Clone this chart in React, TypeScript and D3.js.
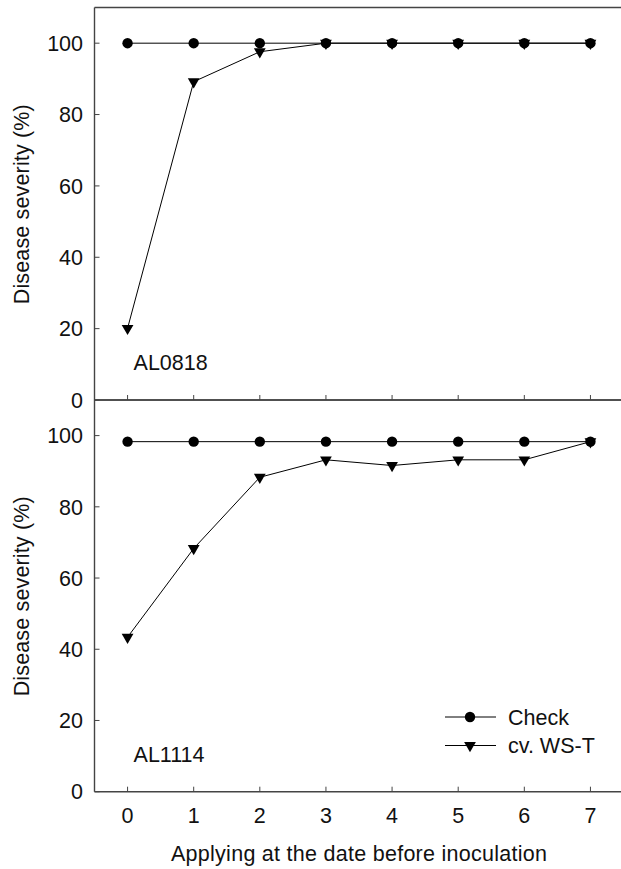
import React, { useEffect, useRef } from "react";
import * as d3 from "d3";

// days before inoculation
const days = [0, 1, 2, 3, 4, 5, 6, 7];

// AL0818 panel
const checkAL0818 = [100, 100, 100, 100, 100, 100, 100, 100];
const wstAL0818 = [20.1, 89.2, 97.6, 100, 100, 100, 100, 100];

// AL1114 panel
const checkAL1114 = [98.3, 98.3, 98.3, 98.3, 98.3, 98.3, 98.3, 98.3];
const wstAL1114 = [43.4, 68.3, 88.3, 93.2, 91.6, 93.2, 93.2, 98.3];

const yTicks = [0, 20, 40, 60, 80, 100];
const panelNames = ["AL0818", "AL1114"];
const seriesNames = ["Check", "cv. WS-T"];

const W = 621;
const H = 869;
const FONT = "Liberation Sans, Arial, sans-serif";
const FS = 21.5;

const App = () => {
  const ref = useRef<SVGSVGElement>(null);

  useEffect(() => {
    const svg = d3.select(ref.current);
    svg.selectAll("*").remove();

    const left = 94.5;
    const right = 623.5;
    const x = d3.scaleLinear().domain([-0.5, 7.5]).range([left, right]);

    const panels = [
      { name: panelNames[0], check: checkAL0818, wst: wstAL0818, top: 7.5, bottom: 400 },
      { name: panelNames[1], check: checkAL1114, wst: wstAL1114, top: 400, bottom: 791.7 },
    ];

    const axisColor = "#444";
    const circle = d3.symbol().type(d3.symbolCircle).size(85)();
    const tri = d3.symbol().type(d3.symbolTriangle).size(60)();

    const txt = (g: any) =>
      g.append("text").attr("font-size", FS).attr("font-family", FONT).attr("fill", "#111");

    panels.forEach((p, i) => {
      const y = d3.scaleLinear().domain([0, 110]).range([p.bottom, p.top]);
      const g = svg.append("g");

      // frame: left, top, bottom
      g.append("line").attr("x1", left).attr("x2", left).attr("y1", p.top).attr("y2", p.bottom)
        .attr("stroke", axisColor).attr("stroke-width", 1.4);
      g.append("line").attr("x1", left).attr("x2", W).attr("y1", p.top).attr("y2", p.top)
        .attr("stroke", axisColor).attr("stroke-width", 1.4);
      g.append("line").attr("x1", left).attr("x2", W).attr("y1", p.bottom).attr("y2", p.bottom)
        .attr("stroke", axisColor).attr("stroke-width", 1.4);

      // y ticks (inward)
      yTicks.forEach((t) => {
        g.append("line").attr("x1", left).attr("x2", left + 5).attr("y1", y(t)).attr("y2", y(t))
          .attr("stroke", axisColor).attr("stroke-width", 1);
        txt(g).attr("x", 83).attr("y", y(t)).attr("dy", "0.36em")
          .attr("text-anchor", "end").text(t);
      });

      // x ticks (inward)
      days.forEach((d) => {
        g.append("line").attr("x1", x(d)).attr("x2", x(d)).attr("y1", p.bottom).attr("y2", p.bottom - 5)
          .attr("stroke", axisColor).attr("stroke-width", 1);
      });

      // y title
      txt(g)
        .attr("transform", `translate(29,${(p.top + p.bottom) / 2 + 0.5}) rotate(-90)`)
        .attr("text-anchor", "middle")
        .attr("textLength", 200).attr("lengthAdjust", "spacing")
        .text("Disease severity (%)");

      // panel label
      txt(g).attr("x", x(0) + 6).attr("y", p.bottom - 30).text(p.name);

      const line = d3.line<number>().x((_, k) => x(days[k])).y((v) => y(v));

      // cv. WS-T
      g.append("path").attr("d", line(p.wst)).attr("fill", "none").attr("stroke", "#000").attr("stroke-width", 1);
      // Check
      g.append("path").attr("d", line(p.check)).attr("fill", "none").attr("stroke", "#000").attr("stroke-width", 1);

      g.selectAll(".tri").data(p.wst).join("path")
        .attr("d", tri).attr("fill", "#000")
        .attr("transform", (v, k) => `translate(${x(days[k])},${y(v)}) rotate(180)`);
      g.selectAll(".dot").data(p.check).join("path")
        .attr("d", circle).attr("fill", "#000")
        .attr("transform", (v, k) => `translate(${x(days[k])},${y(v)})`);

      if (i === 1) {
        days.forEach((d) => {
          txt(g).attr("x", x(d)).attr("y", p.bottom + 31.5)
            .attr("text-anchor", "middle").text(d);
        });
        txt(g).attr("x", 359).attr("y", 861)
          .attr("text-anchor", "middle")
          .attr("textLength", 376).attr("lengthAdjust", "spacing")
          .text("Applying at the date before inoculation");

        // legend
        seriesNames.forEach((s, k) => {
          const ly = 717 + k * 28.5;
          g.append("line").attr("x1", 445).attr("x2", 496).attr("y1", ly).attr("y2", ly)
            .attr("stroke", "#000").attr("stroke-width", 1);
          g.append("path").attr("d", k === 0 ? circle : tri).attr("fill", "#000")
            .attr("transform", `translate(470,${ly})${k === 0 ? "" : " rotate(180)"}`);
          txt(g).attr("x", 508).attr("y", ly).attr("dy", "0.36em").text(s);
        });
      }
    });
  }, []);

  return (
    <div style={{ position: "absolute", left: 0, top: 0 }}>
      <svg ref={ref} width={W} height={H} style={{ display: "block", background: "#fff" }} />
    </div>
  );
};

export default App;
